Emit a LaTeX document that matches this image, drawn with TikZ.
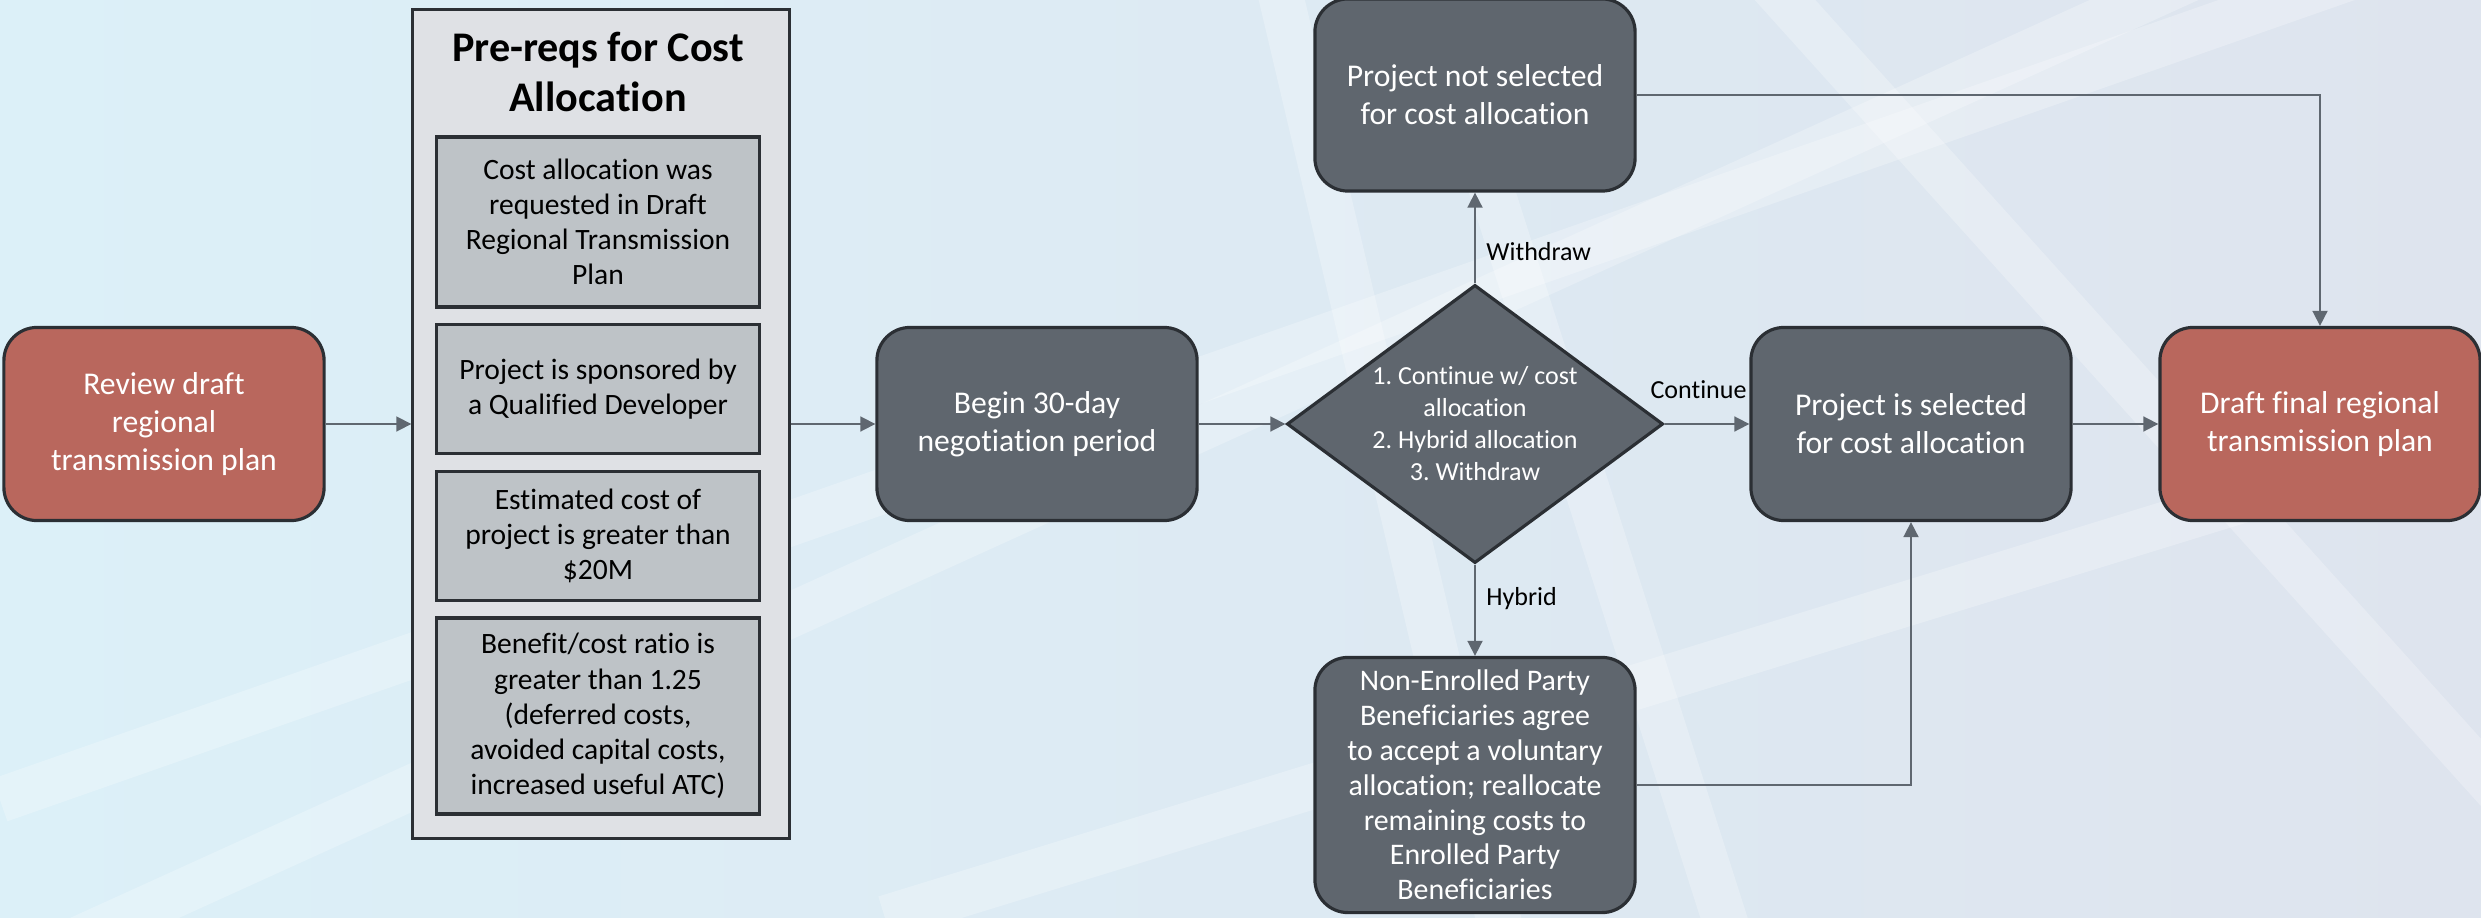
\documentclass[tikz,border=0pt]{standalone}
\usepackage{fontspec}
\setmainfont{Carlito}[Ligatures=NoCommon]
\usetikzlibrary{positioning,calc,fit,shapes,backgrounds,arrows.meta}
\definecolor{planred}{HTML}{B9675D}
\definecolor{slategrey}{HTML}{5F666E}
\definecolor{edgegrey}{HTML}{2B2F34}
\definecolor{arrowgrey}{HTML}{5F6770}
\definecolor{reqgrey}{HTML}{BEC3C7}
\definecolor{boxgrey}{HTML}{DFE1E5}
\definecolor{bgleft}{HTML}{DCF0F8}
\definecolor{bgright}{HTML}{DEE4EE}
\tikzset{
    costflow/.style={
        x=0.01cm, y=-0.01cm,
        % Style for the start and end of the plan (red)
        planbox/.style={draw=edgegrey, fill=planred, rounded corners=0.33cm,
                        line width=0.9pt, text=white, align=center,
                        minimum width=3.2cm, minimum height=1.93cm,
                        inner sep=2pt, font=\fontsize{9}{10.8}\selectfont},
        % Style for process steps (dark grey)
        process/.style={planbox, fill=slategrey},
        % Style for the decision (diamond)
        decision/.style={draw=edgegrey, fill=slategrey, diamond, aspect=1.35,
                         line width=0.9pt, text=white, align=center,
                         inner sep=0pt, minimum width=3.76cm, minimum height=2.78cm,
                         font=\fontsize{7.4}{9.1}\selectfont},
        % Style for the pre-requisites
        prereq/.style={draw=edgegrey, fill=reqgrey, line width=0.9pt,
                       align=center, minimum width=3.22cm, inner sep=2pt,
                       font=\fontsize{8.4}{10}\selectfont},
        container/.style={draw=edgegrey, fill=boxgrey, line width=0.9pt,
                          minimum width=3.76cm, minimum height=8.29cm, inner sep=0pt},
        flowarrow/.style={draw=arrowgrey, line width=0.5pt,
                          -{Triangle[length=0.15cm, width=0.15cm]}},
        flowlabel/.style={font=\fontsize{7.4}{8.8}\selectfont, text=black, inner sep=3pt},
        band/.style={white, opacity=0.25, line width=0.45cm}
    }
}

\begin{document}
\begin{tikzpicture}[costflow]
    \useasboundingbox (0,0) rectangle (2481,918);
    % background
    \fill[left color=bgleft, right color=bgright] (0,0) rectangle (2481,918);
    \begin{scope}
        \clip (0,0) rectangle (2481,918);
        \draw[band] (1270,-50) -- (1510,968);
        \draw[band] (1415,-50) -- (1740,968);
        \draw[band] (1740,-50) -- (2650,960);
        \draw[band] (-100,1020) -- (2210,-30);
        \draw[band] (0,800) -- (2481,-68);
        \draw[band] (885,918) -- (2481,427);
    \end{scope}

    \node[planbox] (review) at (164,424) {Review draft\\regional\\transmission plan};

    \node[container] (reqs) at (601,424) {};
    \node[font=\bfseries\fontsize{12}{14.2}\selectfont, align=center] (reqtitle) at (598,72) {Pre-reqs for Cost\\Allocation};
    \node[prereq, minimum height=1.70cm] (reqone) at (598,222) {Cost allocation was\\requested in Draft\\Regional Transmission\\Plan};
    \node[prereq, minimum height=1.29cm] (reqtwo) at (598,389) {Project is sponsored by\\a Qualified Developer};
    \node[prereq, minimum height=1.29cm] (reqthree) at (598,536) {Estimated cost of\\project is greater than\\\$20M};
    \node[prereq, minimum height=1.96cm] (reqfour) at (598,716) {Benefit/cost ratio is\\greater than 1.25\\(deferred costs,\\avoided capital costs,\\increased useful ATC)};

    \node[process] (begin) at (1037,424) {Begin 30-day\\negotiation period};
    \node[decision] (choice) at (1475,424) {1.\ Continue w/ cost\\allocation\\2.\ Hybrid allocation\\3.\ Withdraw};
    \node[process, minimum height=1.92cm] (notsel) at (1475,95) {Project not selected\\for cost allocation};
    \node[process, minimum height=2.55cm, inner sep=1pt, font=\fontsize{8.5}{9.9}\selectfont] (hybrid) at (1475,785) {Non-Enrolled Party\\Beneficiaries agree\\to accept a voluntary\\allocation; reallocate\\remaining costs to\\Enrolled Party\\Beneficiaries};
    \node[process] (selected) at (1911,424) {Project is selected\\for cost allocation};
    \node[planbox] (final) at (2320,424) {Draft final regional\\transmission plan};

    \draw[flowarrow] (review.east) -- (reqs.west);
    \draw[flowarrow] (reqs.east) -- (begin.west);
    \draw[flowarrow] (begin.east) -- (choice.west);
    \draw[flowarrow] (choice.north) -- node[flowlabel, right, pos=0.35] {Withdraw} (notsel.south);
    \draw[flowarrow] (choice.east) -- node[flowlabel, above=4pt, pos=0.4] {Continue} (selected.west);
    \draw[flowarrow] (choice.south) -- node[flowlabel, right, pos=0.37] {Hybrid} (hybrid.north);
    \draw[flowarrow] (selected.east) -- (final.west);
    \draw[flowarrow] (notsel.east) -| (final.north);
    \draw[flowarrow] (hybrid.east) -| (selected.south);
\end{tikzpicture}
\end{document}
